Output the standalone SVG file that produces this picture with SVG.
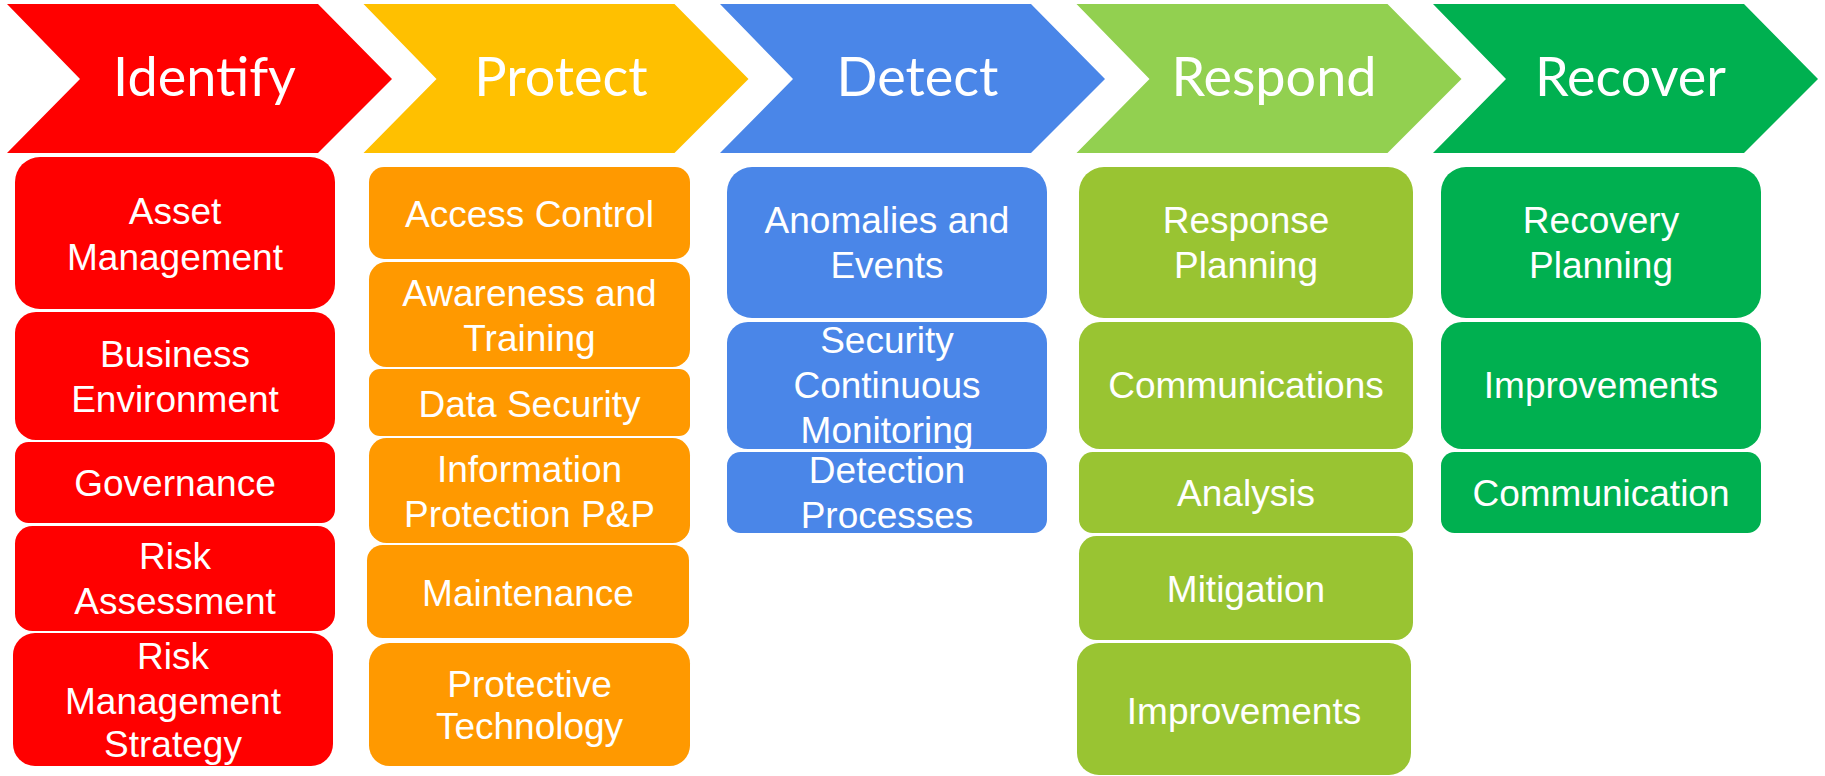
<svg xmlns="http://www.w3.org/2000/svg" width="1825" height="776" viewBox="0 0 1825 776">
<style>
.hd{font-family:Lato,"Liberation Sans",sans-serif;font-size:54px;fill:#fff;text-anchor:middle}
.bt{font-family:"Liberation Sans",Arial,sans-serif;font-size:37px;fill:#fff;text-anchor:middle}
.red{fill:#FF0000}.yel{fill:#FFC000}.org{fill:#FF9900}.blu{fill:#4A86E8}.lgr{fill:#92D050}.mgr{fill:#99C432}.dgr{fill:#00B050}
</style>
<defs>
<path id="chev" d="M0,4 L311,4 L385,79 L311,153 L0,153 L73,79 Z"/>
</defs>
<rect width="1825" height="776" fill="#fff"/>
<g id="identify">
<use href="#chev" x="7" class="red"/>
<text class="hd" x="204.5" y="96">Identify</text>
</g>
<g id="protect">
<use href="#chev" x="363.5" class="yel"/>
<text class="hd" x="561" y="96">Protect</text>
</g>
<g id="detect">
<use href="#chev" x="720" class="blu"/>
<text class="hd" x="917.5" y="96">Detect</text>
</g>
<g id="respond">
<use href="#chev" x="1076.5" class="lgr"/>
<text class="hd" x="1274" y="96">Respond</text>
</g>
<g id="recover">
<use href="#chev" x="1433" class="dgr"/>
<text class="hd" x="1630.5" y="96">Recover</text>
</g>

<g id="id-asset"><rect class="red" x="15" y="157" width="320" height="152" rx="25"/><text class="bt" x="175" y="224">Asset</text><text class="bt" x="175" y="270">Management</text></g>
<g id="id-business"><rect class="red" x="15" y="312" width="320" height="128" rx="21"/><text class="bt" x="175" y="367">Business</text><text class="bt" x="175" y="412">Environment</text></g>
<g id="id-governance"><rect class="red" x="15" y="442" width="320" height="81" rx="13.5"/><text class="bt" x="175" y="496">Governance</text></g>
<g id="id-risk"><rect class="red" x="15" y="526" width="320" height="105" rx="17.5"/><text class="bt" x="175" y="569">Risk</text><text class="bt" x="175" y="614">Assessment</text></g>
<g id="id-rms"><rect class="red" x="13" y="633" width="320" height="133" rx="22"/><text class="bt" x="173" y="669">Risk</text><text class="bt" x="173" y="714">Management</text><text class="bt" x="173" y="757">Strategy</text></g>

<g id="pr-access"><rect class="org" x="369" y="167" width="321" height="92" rx="15"/><text class="bt" x="529.5" y="227">Access Control</text></g>
<g id="pr-awareness"><rect class="org" x="369" y="262" width="321" height="105" rx="17.5"/><text class="bt" x="529.5" y="306">Awareness and</text><text class="bt" x="529.5" y="351">Training</text></g>
<g id="pr-data"><rect class="org" x="369" y="369" width="321" height="67" rx="11"/><text class="bt" x="529.5" y="417">Data Security</text></g>
<g id="pr-info"><rect class="org" x="369" y="438" width="321" height="105" rx="17.5"/><text class="bt" x="529.5" y="482">Information</text><text class="bt" x="529.5" y="527">Protection P&amp;P</text></g>
<g id="pr-maint"><rect class="org" x="367" y="545" width="322" height="93" rx="15.5"/><text class="bt" x="528" y="606">Maintenance</text></g>
<g id="pr-tech"><rect class="org" x="369" y="643" width="321" height="123" rx="20.5"/><text class="bt" x="529.5" y="697">Protective</text><text class="bt" x="529.5" y="739">Technology</text></g>

<g id="de-anom"><rect class="blu" x="727" y="167" width="320" height="151" rx="25"/><text class="bt" x="887" y="233">Anomalies and</text><text class="bt" x="887" y="278">Events</text></g>
<g id="de-scm"><rect class="blu" x="727" y="322" width="320" height="127" rx="21"/><text class="bt" x="887" y="353">Security</text><text class="bt" x="887" y="398">Continuous</text><text class="bt" x="887" y="443">Monitoring</text></g>
<g id="de-proc"><rect class="blu" x="727" y="452" width="320" height="81" rx="13.5"/><text class="bt" x="887" y="483">Detection</text><text class="bt" x="887" y="528">Processes</text></g>

<g id="rs-plan"><rect class="mgr" x="1079" y="167" width="334" height="151" rx="25"/><text class="bt" x="1246" y="233">Response</text><text class="bt" x="1246" y="278">Planning</text></g>
<g id="rs-comm"><rect class="mgr" x="1079" y="322" width="334" height="127" rx="21"/><text class="bt" x="1246" y="398">Communications</text></g>
<g id="rs-anal"><rect class="mgr" x="1079" y="452" width="334" height="81" rx="13.5"/><text class="bt" x="1246" y="506">Analysis</text></g>
<g id="rs-mit"><rect class="mgr" x="1079" y="536" width="334" height="104" rx="17.5"/><text class="bt" x="1246" y="602">Mitigation</text></g>
<g id="rs-imp"><rect class="mgr" x="1077" y="643" width="334" height="132" rx="22"/><text class="bt" x="1244" y="724">Improvements</text></g>

<g id="rc-plan"><rect class="dgr" x="1441" y="167" width="320" height="151" rx="25"/><text class="bt" x="1601" y="233">Recovery</text><text class="bt" x="1601" y="278">Planning</text></g>
<g id="rc-imp"><rect class="dgr" x="1441" y="322" width="320" height="127" rx="21"/><text class="bt" x="1601" y="398">Improvements</text></g>
<g id="rc-comm"><rect class="dgr" x="1441" y="452" width="320" height="81" rx="13.5"/><text class="bt" x="1601" y="506">Communication</text></g>

<g id="connectors"/>
</svg>
